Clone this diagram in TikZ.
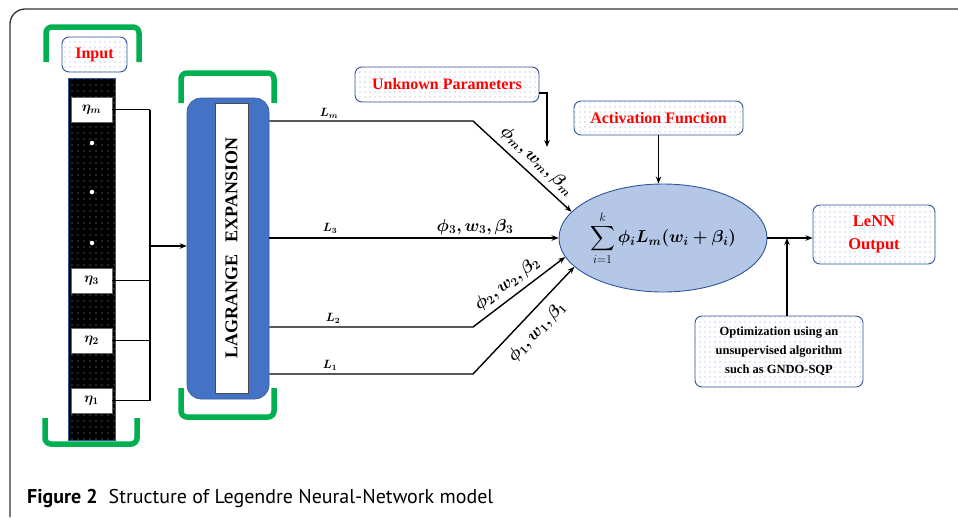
\documentclass[tikz,border=0pt]{standalone}
\usepackage{fontspec}
\usepackage{amsmath,bm,graphicx}
\setmainfont{Liberation Serif}
\newfontfamily\capfont{PT Sans}
\usetikzlibrary{shapes.geometric,arrows.meta,patterns.meta,calc}
\definecolor{grn}{HTML}{00B050}
\definecolor{boxblue}{HTML}{4472C4}
\definecolor{ellfill}{HTML}{B4C7E7}
\definecolor{edgeblue}{HTML}{2F5597}
\definecolor{dotc}{HTML}{8EA3CF}
\definecolor{redt}{HTML}{FF0000}
\definecolor{framec}{HTML}{333333}
\begin{document}
\begin{tikzpicture}[x=1pt,y=-1pt,
  conn/.style={line width=1.4pt, draw=black},
  arr/.style={conn, -{Stealth[length=7pt,width=5.5pt]}},
  bracket/.style={draw=grn, line width=5.5pt, rounded corners=6pt},
  dotbox/.style={draw=edgeblue, line width=0.9pt, rounded corners=7pt,
     preaction={fill=white}, pattern={Dots[distance=5pt,radius=0.6pt]},
     pattern color=dotc, inner sep=0pt, align=center, font=\bfseries},
  etabox/.style={fill=white, draw=black!60, line width=0.4pt, minimum width=41pt,
     minimum height=25pt, inner sep=0pt, font=\fontsize{14}{16}\selectfont},
  lbl/.style={inner sep=0pt, font=\fontsize{12}{14}\selectfont},
  wlbl/.style={inner sep=0pt, font=\fontsize{17}{20}\selectfont},
  wdot/.style={circle, fill=white, inner sep=0pt, minimum size=4.5pt}
]
\useasboundingbox (0,0) rectangle (958,517);
% frame
\draw[framec, line width=1.3pt] (10,517) -- (10,24) arc[start angle=180, end angle=90, radius=15pt] -- (958,9);
\node[anchor=base west, inner sep=0pt] (cap) at (27,503)
  {\resizebox{466pt}{!}{\capfont\textbf{Figure 2}\hspace{0.55em}Structure of Legendre Neural-Network model}};

% input column
\node[dotbox, minimum width=65pt, minimum height=35pt, font=\bfseries\fontsize{16}{18}\selectfont, text=redt] (input) at (94.5,54.5) {Input};
\node[draw=edgeblue, line width=0.8pt, preaction={fill=black}, pattern={Dots[distance=6pt,radius=0.6pt]}, pattern color=gray!80,
      minimum width=47pt, minimum height=362pt, inner sep=0pt] (col) at (91.5,259) {};
\node[etabox] (em) at (91.5,109.5) {$\bm{\eta_m}$};
\node[etabox] (e3) at (91.5,280.5) {$\bm{\eta_3}$};
\node[etabox] (e2) at (91.5,340.5) {$\bm{\eta_2}$};
\node[etabox] (e1) at (91.5,400.5) {$\bm{\eta_1}$};
\node[wdot] (d1) at (92,143) {};
\node[wdot] (d2) at (92,192) {};
\node[wdot] (d3) at (92,243) {};
\draw[bracket] (46,62) -- (46,27) -- (139,27) -- (139,62);
\draw[bracket] (45,418) -- (45,444) -- (137,444) -- (137,418);

% Lagrange
\node[fill=boxblue, draw=boxblue!80!black, line width=0.6pt, rounded corners=14pt, minimum width=82pt, minimum height=301pt, inner sep=0pt] (lag) at (228,248.5) {};
\node[fill=white, draw=black!70, line width=0.6pt, minimum width=290pt, minimum height=33pt, inner sep=0pt,
      rotate=90, font=\bfseries\fontsize{18}{20}\selectfont] (lagt) at (231.5,248) {LAGRANGE\hspace{0.7em}EXPANSION};
\draw[bracket] (181,103) -- (181,73) -- (274,73) -- (274,103);
\draw[bracket] (181,388) -- (181,417) -- (274,417) -- (274,388);

% input connectors
\coordinate (j) at (150,246);
\draw[conn] (em.east) -- (em.east -| j);
\draw[conn] (e3.east) -- (e3.east -| j);
\draw[conn] (e2.east) -- (e2.east -| j);
\draw[conn] (e1.east) -- (e1.east -| j);
\draw[conn] (em.east -| j) -- (e1.east -| j);
\draw[arr] (j) -- (j -| lag.west);

% ellipse
\node[ellipse, fill=ellfill, draw=edgeblue, line width=0.9pt, minimum width=208pt, minimum height=108pt, inner sep=0pt,
      font=\fontsize{17}{20}\selectfont] (ell) at (663,238)
      {$\displaystyle\sum_{i=1}^{k}\bm{\phi_i L_m(w_i+\beta_i)}$};

% Lagrange outputs
\coordinate (km) at (473,121);
\coordinate (k2) at (473,327);
\coordinate (k1) at (473,374);
\draw[arr] (lag.east |- km) -- (km) -- (ell.164);
\draw[arr] (lag.east |- 0,238) -- (ell.west |- 0,238);
\draw[arr] (lag.east |- k2) -- (k2) -- (ell.191);
\draw[arr] (lag.east |- k1) -- (k1) -- (ell.198);
\node[lbl] (lm) at (329,113) {$\bm{L_m}$};
\node[lbl] (l3) at (330,228) {$\bm{L_3}$};
\node[lbl] (l2) at (333,318) {$\bm{L_2}$};
\node[lbl] (l1) at (330,365) {$\bm{L_1}$};
\node[wlbl] (w3) at (475,227) {$\bm{\phi_3, w_3, \beta_3}$};
\node[wlbl, rotate=-43] (wm) at (537,161) {$\bm{\phi_m, w_m, \beta_m}$};
\node[wlbl, rotate=37] (w2) at (507,284) {$\bm{\phi_2, w_2, \beta_2}$};
\node[wlbl, rotate=47] (w1) at (537,332) {$\bm{\phi_1, w_1, \beta_1}$};

% unknown parameters
\node[dotbox, minimum width=184pt, minimum height=35pt, font=\bfseries\fontsize{16}{18}\selectfont, text=redt] (up) at (447,84.5) {Unknown Parameters};
\coordinate (upend) at (547,147);
\draw[arr] ($(up.east)+(0,8.5)$) -| (upend);

% activation
\node[dotbox, minimum width=169pt, minimum height=34pt, font=\bfseries\fontsize{16}{18}\selectfont, text=redt] (act) at (658.5,118) {Activation Function};
\draw[arr] (act.south) -- (act.south |- ell.north);

% output
\node[dotbox, minimum width=122pt, minimum height=59pt, font=\bfseries\fontsize{16.5}{23}\selectfont, text=redt] (out) at (874,234.5) {LeNN\\Output};
\draw[arr] (ell.east) -- (ell.east -| out.west);

% optimization
\node[dotbox, minimum width=168pt, minimum height=71pt, font=\bfseries\fontsize{12.5}{19}\selectfont] (opt) at (779,351.5)
  {Optimization using an\\unsupervised algorithm\\such as GNDO-SQP};
\coordinate (oj) at (787,238);
\draw[arr] (opt.north -| oj) -- (oj);
\end{tikzpicture}
\end{document}
